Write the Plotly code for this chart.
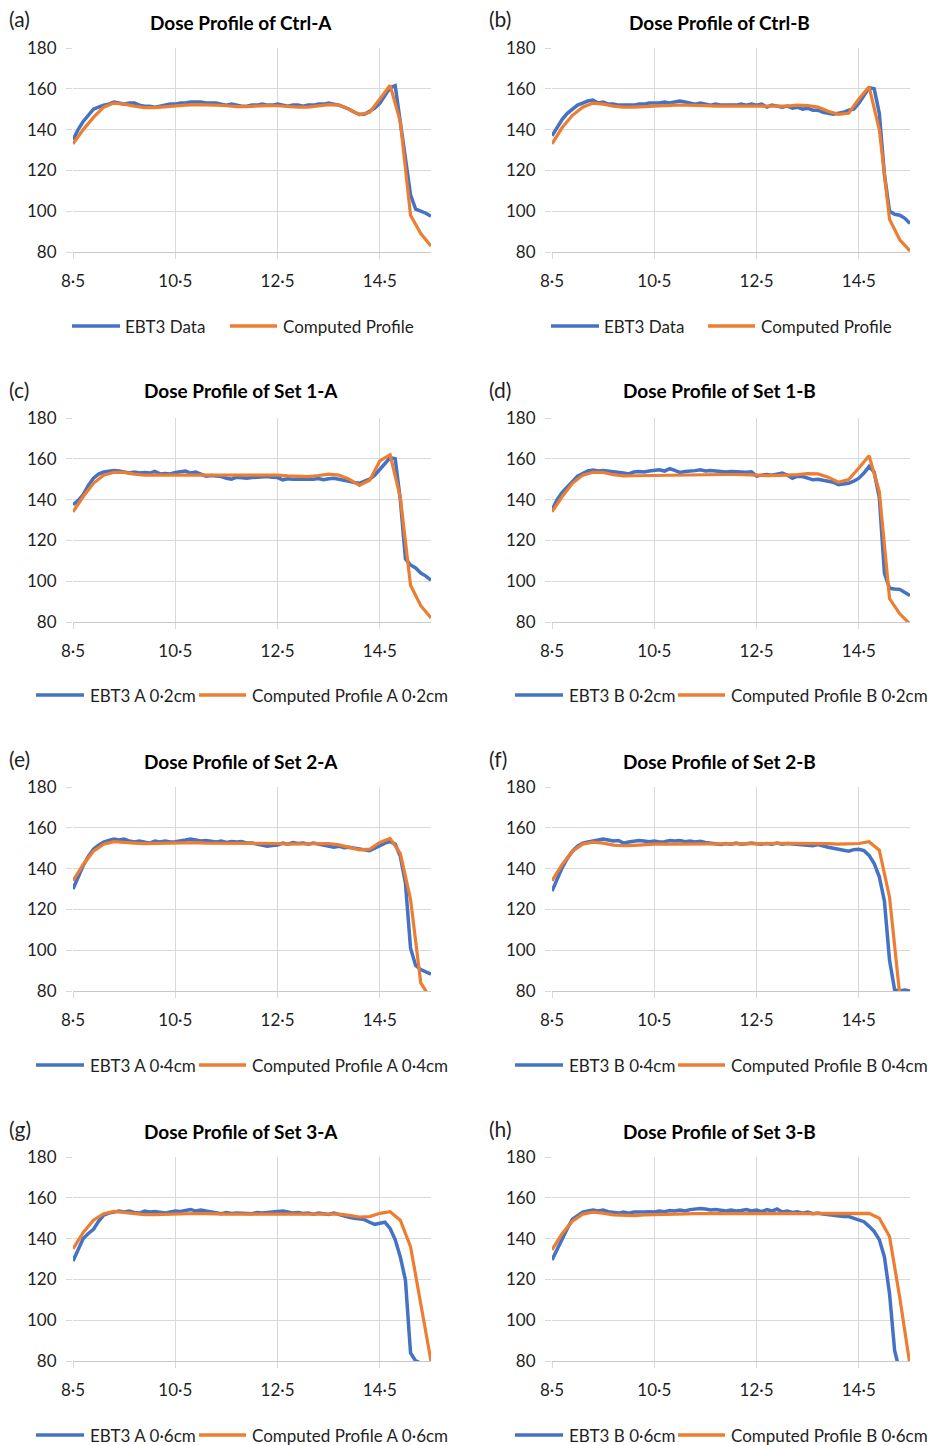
import plotly.graph_objects as go

# ---------------- data ----------------
X_BLUE = [8.5, 8.6, 8.7, 8.8, 8.9, 9.0, 9.1, 9.2, 9.3, 9.4, 9.5, 9.6, 9.7, 9.8, 9.9,
          10.0, 10.1, 10.2, 10.3, 10.4, 10.5, 10.6, 10.7, 10.8, 10.9,
          11.0, 11.1, 11.2, 11.3, 11.4, 11.5, 11.6, 11.7, 11.8, 11.9,
          12.0, 12.1, 12.2, 12.3, 12.4, 12.5, 12.6, 12.7, 12.8, 12.9,
          13.0, 13.1, 13.2, 13.3, 13.4, 13.5, 13.6, 13.7, 13.8, 13.9,
          14.0, 14.1, 14.2, 14.3, 14.4, 14.5, 14.6, 14.7, 14.8, 14.9,
          15.0, 15.1, 15.2, 15.3, 15.4, 15.5]
X_ORANGE = [8.5, 8.7, 8.9, 9.1, 9.3, 9.5, 9.7, 9.9, 10.1, 10.3, 10.5, 10.7, 10.9,
            11.1, 11.3, 11.5, 11.7, 11.9, 12.1, 12.3, 12.5, 12.7, 12.9,
            13.1, 13.3, 13.5, 13.7, 13.9, 14.1, 14.3, 14.5, 14.7, 14.9,
            15.1, 15.3, 15.5]

X_TICKS = [8.5, 10.5, 12.5, 14.5]
X_TICK_TEXT = ["8·5", "10·5", "12·5", "14·5"]
Y_TICKS = [80, 100, 120, 140, 160, 180]

TITLES = ["Dose Profile of Ctrl-A", "Dose Profile of Ctrl-B",
          "Dose Profile of Set 1-A", "Dose Profile of Set 1-B",
          "Dose Profile of Set 2-A", "Dose Profile of Set 2-B",
          "Dose Profile of Set 3-A", "Dose Profile of Set 3-B"]
PANEL_LABELS = ["(a)", "(b)", "(c)", "(d)", "(e)", "(f)", "(g)", "(h)"]
BLUE_NAMES = ["EBT3 Data", "EBT3 Data", "EBT3 A 0·2cm", "EBT3 B 0·2cm",
              "EBT3 A 0·4cm", "EBT3 B 0·4cm", "EBT3 A 0·6cm", "EBT3 B 0·6cm"]
ORANGE_NAMES = ["Computed Profile", "Computed Profile",
                "Computed Profile A 0·2cm", "Computed Profile B 0·2cm",
                "Computed Profile A 0·4cm", "Computed Profile B 0·4cm",
                "Computed Profile A 0·6cm", "Computed Profile B 0·6cm"]

EBT3_CTRL_A = [135, 140, 144, 147, 150, 151, 152, 152.5, 153.5, 153, 152.5, 153, 153, 152, 151.5,
               151.5, 151, 151.5, 152, 152.5, 152.5, 153, 153, 153.5, 153.5,
               153.5, 153, 153, 153, 152.5, 152, 152.5, 152, 151.5, 151.5,
               152, 152, 152.5, 152, 152, 152.5, 152, 151.5, 152, 152,
               151.5, 152, 152, 152.5, 152.5, 153, 152.5, 152, 151, 150,
               148.5, 147.5, 147.5, 149, 150.5, 153, 157, 160.5, 161.5, 145,
               126, 108, 101, 100, 99, 97.5]
COMP_CTRL_A = [133, 140, 146, 151, 153, 152.5, 151.5, 150.8, 150.8, 151.3, 151.7, 152, 152.2,
               152.2, 152, 151.7, 151.3, 151.3, 151.6, 151.8, 151.7, 151.2, 151,
               151, 151.6, 152.2, 152, 150, 147.3, 148.5, 155, 161.7, 144,
               98, 89, 83]

EBT3_CTRL_B = [137, 141, 145, 148, 150, 152, 153, 154, 154.5, 153, 153.5, 152.5, 152.5, 152, 152,
               152, 152, 152.5, 152.5, 153, 153, 153, 153.5, 153, 153.5,
               154, 153.5, 153, 152.5, 153, 152.5, 152, 152.5, 152, 152,
               152, 152, 152.5, 152, 152.5, 152, 152.5, 151, 152, 151.5,
               151, 151.5, 150.5, 151, 150, 150.5, 149.5, 149.5, 148.5, 148,
               147.5, 148, 148.5, 149.5, 150, 153, 157, 160.5, 160, 148,
               118, 100, 98.5, 98, 96.5, 94]
COMP_CTRL_B = [133, 141, 147, 151, 153, 152.5, 151.5, 151, 151, 151.3, 151.6, 152, 152,
               152, 152, 151.8, 151.5, 151.5, 151.6, 151.8, 151.8, 151.5, 151.5,
               151.5, 152, 151.8, 151, 149, 147.5, 148, 155, 161, 140,
               96, 86, 80.5]

EBT3_SET1_A = [137.5, 139.5, 142.5, 147, 150.5, 152.5, 153.5, 154, 154.2, 154, 153.5, 153, 153.5, 153, 153.3,
               153, 153.8, 152.6, 152.8, 152.6, 153.3, 153.5, 154, 153, 153.5,
               152.5, 151.5, 151.8, 151.6, 151.3, 150.5, 150, 151, 150.8, 150.5,
               150.8, 151, 151, 151.3, 151, 150.8, 149.7, 150.2, 150, 150,
               149.7, 150, 150, 150.3, 149.7, 150.2, 150.5, 150, 149.7, 149,
               148.4, 148, 149, 150, 152, 155, 158, 160.5, 160, 140,
               111, 108, 106.5, 104, 102.5, 100.5]
COMP_SET1_A = [134, 141.5, 148, 152, 153.4, 153.3, 152.5, 152, 152, 152, 152, 152.2, 152.2,
               152, 152, 152, 152, 152.2, 152.3, 152.2, 152, 151.6, 151.3,
               151.3, 151.8, 152.5, 152, 150, 147, 149.5, 159, 162, 141,
               98, 88, 82]

EBT3_SET1_B = [135, 140, 143.5, 146, 149, 151.5, 152.8, 154, 154.5, 154, 154.2, 154, 153.6, 153.2, 153,
               152.6, 153.5, 153.8, 153.5, 154, 154.2, 154.6, 154, 155.2, 154.3,
               153.3, 153.8, 153.8, 154.2, 154.6, 154, 154.3, 154, 153.8, 153.5,
               153.8, 153.6, 153.8, 153.4, 153.6, 151.5, 152, 152.3, 152, 152.5,
               153, 152, 150.5, 151.5, 151.3, 150.5, 149.7, 150, 149.5, 149.3,
               148.5, 147.3, 147.5, 148, 149, 150.5, 153, 156.2, 153.5, 141,
               104, 96.5, 96.2, 96, 94.5, 93]
COMP_SET1_B = [134, 141.5, 148, 152, 153.4, 153.3, 152.2, 151.6, 151.7, 151.8, 152, 152, 152.1,
               152.1, 152.2, 152.2, 152.3, 152.3, 152.3, 152.3, 152, 151.8, 151.8,
               152, 152.2, 152.7, 152.6, 151, 148.5, 149.8, 155.5, 161.5, 144,
               91.5, 84, 79]

EBT3_SET2_A = [130, 136, 141.5, 146, 149.5, 151.5, 153, 153.8, 154.5, 154, 154.5, 153.5, 153, 153.5, 153,
               152.5, 153.5, 153, 153.5, 153, 153.2, 153.8, 154, 154.5, 154,
               153.5, 153.8, 153.2, 153, 153.5, 152.8, 153.3, 153, 153.3, 152.5,
               152.5, 152, 151.5, 151, 151.3, 151.5, 152.5, 152, 152.8, 152.3,
               152.5, 152, 152.5, 152, 151.5, 151, 150.5, 151, 150.2, 150.5,
               150, 149.8, 149.3, 148.8, 150, 151.5, 152.5, 153.2, 152, 146,
               133, 101, 92.5, 90.5, 89.5, 88.3]
COMP_SET2_A = [134, 142, 148.5, 152, 153.2, 153, 152.5, 152.2, 152.3, 152.5, 152.7, 152.7, 152.7,
               152.5, 152.5, 152.3, 152.2, 152.2, 152.3, 152.5, 152.3, 152, 152,
               152.2, 152.3, 152.3, 151.6, 150.5, 149.2, 149.5, 152.8, 154.8, 147.5,
               125, 84, 76]

EBT3_SET2_B = [129, 135, 140.5, 145, 148.5, 151, 152.5, 153, 153.5, 154, 154.5, 154, 153.5, 153.8, 152.5,
               153, 153.3, 153.8, 153.5, 153.2, 153.5, 153, 153.2, 153.8, 153.5,
               153.8, 153.2, 153.5, 153, 153.4, 152.8, 152.5, 152.3, 151.8, 152.3,
               152, 152.5, 152, 152.2, 152.5, 152.2, 152, 152.3, 152, 152.5,
               152, 152.3, 152, 151.8, 151.5, 151.5, 151.2, 151.8, 151, 150.5,
               150, 149.5, 149.3, 148.5, 149.3, 149.5, 148.8, 146.5, 142.5, 136,
               124, 95, 80.5, 80, 80.5, 80]
COMP_SET2_B = [134, 142, 148.5, 152, 153, 152.5, 151.5, 151.2, 151.4, 151.8, 152, 152, 152,
               152, 152, 152, 152, 152, 152, 152.2, 152.3, 152.3, 152.4,
               152.4, 152.5, 152.5, 152.4, 152.2, 152, 152, 152.3, 153.2, 149,
               126, 78, 70]

EBT3_SET3_A = [129, 134.5, 140, 142.5, 144.5, 148.5, 151.5, 152.5, 153.2, 153.5, 153, 153.5, 152.8, 152.5, 153.5,
               153, 153.3, 153, 152.5, 153, 153.5, 153.3, 154, 154.3, 153.5,
               154, 153.5, 153, 152.5, 152.2, 152.8, 152.3, 152.5, 152.3, 152.5,
               152.2, 152.8, 152.5, 152.8, 153, 153.3, 153.5, 153, 152.5, 152.8,
               152.3, 152.5, 152, 152.5, 152.2, 151.8, 152.5, 151.8, 150.8, 150.5,
               150, 149.5, 149.3, 148, 147, 147.5, 148, 145, 139.5, 131,
               119.7, 84, 80, 79, 78, 77]
COMP_SET3_A = [135, 143, 149, 152.2, 153.3, 152.8, 152, 151.8, 151.8, 152, 152.2, 152.3, 152.3,
               152.2, 152, 152, 152, 152, 152.2, 152.3, 152.3, 152.3, 152.3,
               152.2, 152.2, 152.2, 152, 151.4, 150.6, 150.8, 152.4, 153.2, 149,
               136, 109, 80]

EBT3_SET3_B = [129.5, 135, 140, 145, 149.5, 151, 153, 153.5, 154, 153.5, 154, 153.2, 153, 152.5, 153,
               152.5, 153, 152.8, 153, 153.2, 153, 153.5, 153.2, 153.8, 153.5,
               154, 153.5, 154.2, 154.5, 154.8, 154.5, 154, 154.2, 153.8, 153.5,
               154, 153.5, 153.8, 154.2, 153.5, 154, 153.2, 154.2, 153.5, 154.5,
               153, 153.5, 152.8, 153.2, 152.5, 153, 152.2, 152.5, 152, 151.6,
               151.2, 150.8, 150.8, 150.8, 150, 149.3, 148.3, 146, 143.5, 139.5,
               131, 113, 85, 75, 74, 73]
COMP_SET3_B = [134.5, 142.5, 148.5, 152, 153, 152.5, 151.6, 151.3, 151.3, 151.6, 151.8, 152, 152,
               152.1, 152.2, 152.2, 152.2, 152.2, 152.3, 152.3, 152.3, 152.3, 152.3,
               152.4, 152.4, 152.4, 152.4, 152.4, 152.4, 152.4, 152.4, 152.4, 150,
               141, 111, 78]

EBT3_SERIES = [EBT3_CTRL_A, EBT3_CTRL_B, EBT3_SET1_A, EBT3_SET1_B,
               EBT3_SET2_A, EBT3_SET2_B, EBT3_SET3_A, EBT3_SET3_B]
COMP_SERIES = [COMP_CTRL_A, COMP_CTRL_B, COMP_SET1_A, COMP_SET1_B,
               COMP_SET2_A, COMP_SET2_B, COMP_SET3_A, COMP_SET3_B]

# ---------------- styling / layout ----------------
W, H = 931, 1445
BLUE = "#4472C4"
ORANGE = "#ED7D31"
GRID = "#D9D9D9"
FONT = "Lato"
TXT = "#1F1F1F"

COL_X = [(73, 431), (552, 910)]          # plot area px (left, right)
ROW_Y = [(48, 252), (418, 622), (787, 991), (1157, 1361)]   # plot area px (top, bottom)
TITLE_CX = [240.5, 719.5]
TITLE_Y = [22, 391, 761, 1131]
LABEL_X = [7, 487]
LABEL_Y = [19, 389, 758, 1128]
LEG_Y = [326, 695, 1065, 1435]
# legend geometry: (blue line x0, x1, blue text x, orange line x0, x1, orange text x)
LEG_ROW1 = [(72, 120, 123, 230, 277, 281), (551, 599, 602, 708, 755, 759)]
LEG_ROWN = [(36, 84, 88, 199, 246, 250), (515, 563, 567, 678, 725, 729)]


def px(x):
    return x / W


def py(y):
    return 1 - y / H


fig = go.Figure()
annotations = []
shapes = []

for i in range(8):
    r, c = divmod(i, 2)
    n = i + 1
    xa = "x" if n == 1 else f"x{n}"
    ya = "y" if n == 1 else f"y{n}"
    fig.add_trace(go.Scatter(x=X_BLUE, y=EBT3_SERIES[i], mode="lines", name=BLUE_NAMES[i],
                             line=dict(color=BLUE, width=3.5), xaxis=xa, yaxis=ya,
                             showlegend=False))
    fig.add_trace(go.Scatter(x=X_ORANGE, y=COMP_SERIES[i], mode="lines", name=ORANGE_NAMES[i],
                             line=dict(color=ORANGE, width=3.2), xaxis=xa, yaxis=ya,
                             showlegend=False))
    x0, x1 = COL_X[c]
    y0, y1 = ROW_Y[r]
    xkey = "xaxis" if n == 1 else f"xaxis{n}"
    ykey = "yaxis" if n == 1 else f"yaxis{n}"
    fig.layout[xkey] = dict(
        domain=[px(x0), px(x1)], anchor=ya, range=[8.5, 15.5], automargin=False,
        tickvals=X_TICKS, ticktext=X_TICK_TEXT, showgrid=True, gridcolor=GRID, gridwidth=1,
        showline=True, linecolor="#C8C8C8", linewidth=1, zeroline=False,
        ticks="outside", ticklen=6, tickcolor=GRID, ticklabelstandoff=8,
        tickfont=dict(family=FONT, size=17, color=TXT), fixedrange=True)
    fig.layout[ykey] = dict(
        domain=[py(y1), py(y0)], anchor=xa, range=[80, 180], automargin=False,
        tickvals=Y_TICKS, showgrid=True, gridcolor=GRID, gridwidth=1,
        showline=False, zeroline=False,
        ticks="outside", ticklen=6, tickcolor=GRID, ticklabelstandoff=6,
        tickfont=dict(family=FONT, size=17, color=TXT), fixedrange=True)

    # title
    annotations.append(dict(text=f"<b>{TITLES[i]}</b>", x=px(TITLE_CX[c]), y=py(TITLE_Y[r]),
                            xref="paper", yref="paper", xanchor="center", yanchor="middle",
                            showarrow=False, font=dict(family=FONT, size=19, color="#000000")))
    # panel label
    annotations.append(dict(text=PANEL_LABELS[i], x=px(LABEL_X[c]), y=py(LABEL_Y[r]),
                            xref="paper", yref="paper", xanchor="left", yanchor="middle",
                            showarrow=False, font=dict(family=FONT, size=21, color=TXT)))
    # legend
    lg = LEG_ROW1[c] if r == 0 else LEG_ROWN[c]
    ly = py(LEG_Y[r])
    shapes.append(dict(type="line", xref="paper", yref="paper", x0=px(lg[0]), x1=px(lg[1]),
                       y0=ly, y1=ly, line=dict(color=BLUE, width=3.5)))
    shapes.append(dict(type="line", xref="paper", yref="paper", x0=px(lg[3]), x1=px(lg[4]),
                       y0=ly, y1=ly, line=dict(color=ORANGE, width=3.5)))
    annotations.append(dict(text=BLUE_NAMES[i], x=px(lg[2]), y=ly, xref="paper", yref="paper",
                            xanchor="left", yanchor="middle", showarrow=False,
                            font=dict(family=FONT, size=17, color=TXT)))
    annotations.append(dict(text=ORANGE_NAMES[i], x=px(lg[5]), y=ly, xref="paper", yref="paper",
                            xanchor="left", yanchor="middle", showarrow=False,
                            font=dict(family=FONT, size=17, color=TXT)))

fig.update_layout(width=W, height=H, margin=dict(l=0, r=0, t=0, b=0, pad=0, autoexpand=False),
                  paper_bgcolor="white", plot_bgcolor="white",
                  annotations=annotations, shapes=shapes, showlegend=False,
                  font=dict(family=FONT, color=TXT))

fig.write_html("out.html", config={"displayModeBar": False},
               post_script="document.body.style.margin='0px';")
